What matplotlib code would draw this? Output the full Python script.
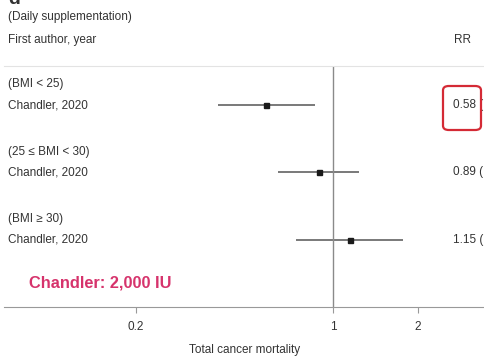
import matplotlib.pyplot as plt
import matplotlib.transforms as mtransforms
from matplotlib.patches import FancyBboxPatch

plt.rcParams["font.family"] = ["Liberation Sans", "DejaVu Sans"]

# forest plot data (BMI subgroups, daily supplementation)
subgroups = ["(BMI < 25)", "(25 \u2264 BMI < 30)", "(BMI \u2265 30)"]
studies = ["Chandler, 2020", "Chandler, 2020", "Chandler, 2020"]
rr = [0.58, 0.89, 1.15]
ci_low = [0.39, 0.64, 0.74]
ci_high = [0.86, 1.24, 1.77]
# the reference is cropped right after the opening bracket
rr_labels = ["0.58 (", "0.89 (", "1.15 ("]
xticks = [0.2, 1, 2]

W, H = 485, 359
fx = lambda px: px / W
fy = lambda py: 1 - py / H

fig = plt.figure(figsize=(W / 100, H / 100), dpi=100)
ax = fig.add_axes([fx(4), fy(307), (W - 4) / W, (307 - 66) / H])
ax.set_xscale("log")
ax.set_xlim(0.0681, 3.46)
ax.set_ylim(2.993, -0.578)

rows = list(range(len(rr)))
ax.hlines(rows, ci_low, ci_high, color="#555555", lw=1.1)
ax.plot(rr, rows, "s", color="#1a1a1a", ms=3.6)
ax.axvline(1, color="#8a8a8a", lw=1.0)

for s in ["left", "right"]:
    ax.spines[s].set_visible(False)
ax.spines["top"].set_color("#e3e3e3")
ax.spines["top"].set_linewidth(0.8)
ax.spines["bottom"].set_color("#999999")
ax.set_yticks([])
ax.set_xticks(xticks)
ax.set_xticklabels([str(t) for t in xticks])
ax.xaxis.set_minor_locator(plt.NullLocator())
ax.tick_params(axis="x", colors="#999999", labelcolor="#333333", labelsize=8.5,
               length=4, width=0.8, pad=6)
ax.set_xlabel("Total cancer mortality", fontsize=8.5, color="#333333", labelpad=8)

tr = mtransforms.blended_transform_factory(fig.transFigure, ax.transData)
txt = dict(fontsize=8.5, color="#333333", va="center", clip_on=False)
for i in rows:
    ax.text(fx(8), i - 0.31, subgroups[i], transform=tr, **txt)
    ax.text(fx(8), i, studies[i], transform=tr, **txt)
    ax.text(fx(453), i, rr_labels[i], transform=tr, **txt)

fig.text(fx(8), fy(17), "(Daily supplementation)", fontsize=8.5, color="#333333", va="center")
fig.text(fx(8), fy(40), "First author, year", fontsize=8.5, color="#333333", va="center")
fig.text(fx(471), fy(40), "RR", fontsize=8.5, color="#333333", va="center", ha="right")
fig.text(fx(8), fy(4), "d", fontsize=14, fontweight="bold", color="#333333", va="baseline")

fig.text(fx(29), fy(283), "Chandler: 2,000 IU", fontsize=11.8, fontweight="bold",
         color="#d6336c", va="center")

box = FancyBboxPatch((fx(443), fy(130)), fx(481) - fx(443), fy(86) - fy(130),
                     boxstyle="round,pad=0,rounding_size=0.012",
                     transform=fig.transFigure, facecolor="none",
                     edgecolor="#d42a35", lw=1.6)
fig.add_artist(box)

fig.savefig("out.png", dpi=100)
